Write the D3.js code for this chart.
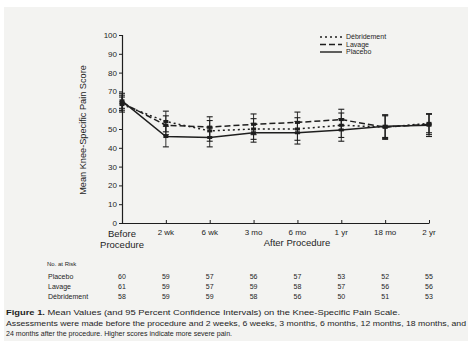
<!DOCTYPE html>
<html><head><meta charset="utf-8">
<script src="https://cdn.jsdelivr.net/npm/d3@7"></script>
<style>
html,body{margin:0;padding:0;background:#fff;}
svg{display:block;font-family:"Liberation Sans",Arial,sans-serif;}
</style></head>
<body><svg id="c" width="471" height="343"></svg>
<script>
const categories = ["Before Procedure","2 wk","6 wk","3 mo","6 mo","1 yr","18 mo","2 yr"];
const yTicks = [0,10,20,30,40,50,60,70,80,90,100];
const seriesNames = ["Débridement","Lavage","Placebo"];
const placeboMean = [65,46,45.5,48,48,49.5,51.5,52];
const placeboLo   = [61,40.5,40.5,43,42,43.5,45.5,46];
const placeboHi   = [69,51.5,50.5,53,54,55.5,57.5,58];
const lavageMean  = [64,52,51,52.5,53.5,55,51,52.5];
const lavageLo    = [60,47,45.5,47,48,49.5,45,47];
const lavageHi    = [68,57,56.5,58,59,60.5,57,58];
const debridMean  = [63,54,49,50,50,52,51,53];
const debridLo    = [59,48.5,43.5,44.5,44,45.5,44.5,48];
const debridHi    = [67,59.5,54.5,55.5,56,58.5,57.5,58];
const riskRows = ["Placebo","Lavage","Débridement"];
const riskPlacebo = [60,59,57,56,57,53,52,55];
const riskLavage  = [61,59,57,59,58,57,56,56];
const riskDebrid  = [58,59,59,58,56,50,51,53];

const svg = d3.select("#c");
const ink = "#1e1e1e";
svg.append("rect").attr("x",4).attr("y",7).attr("width",464).attr("height",334).attr("fill","#f3f3f1");

const x = d3.scalePoint().domain(categories).range([122,429]);
const y = d3.scaleLinear().domain([0,100]).range([223,35]);

// Y axis
const yAxis = svg.append("g").attr("transform","translate(122,0)")
  .call(d3.axisLeft(y).tickValues(yTicks).tickSize(3).tickPadding(2));
yAxis.select(".domain").attr("stroke",ink).attr("stroke-width",1.2);
yAxis.selectAll(".tick line").attr("stroke",ink);
yAxis.selectAll("text").attr("fill",ink).attr("font-size",8).attr("font-family","Liberation Sans, Arial, sans-serif");

svg.append("text").attr("transform","translate(86,130) rotate(-90)").attr("text-anchor","middle")
  .attr("font-size",9.2).attr("fill",ink).text("Mean Knee-Specific Pain Score");

// X axis
const xAxis = svg.append("g").attr("transform","translate(0,223)")
  .call(d3.axisBottom(x).tickSize(-3).tickSizeOuter(0).tickFormat(""));
xAxis.select(".domain").attr("stroke",ink).attr("stroke-width",1.2);
xAxis.selectAll(".tick line").attr("stroke",ink);
categories.forEach((c,i)=>{
  if(i===0){
    const t = svg.append("text").attr("x",x(c)).attr("y",237).attr("text-anchor","middle").attr("font-size",9.5).attr("fill",ink);
    t.append("tspan").attr("x",x(c)).text("Before");
    t.append("tspan").attr("x",x(c)).attr("dy",10.5).text("Procedure");
  } else {
    svg.append("text").attr("x",x(c)).attr("y",235).attr("text-anchor","middle").attr("font-size",8).attr("fill",ink).text(c);
  }
});
svg.append("text").attr("x",297).attr("y",246).attr("text-anchor","middle").attr("font-size",9.5).attr("fill",ink).text("After Procedure");

// Series
const series = [
  {name:"Débridement", mean:debridMean, lo:debridLo, hi:debridHi, dash:"2,3"},
  {name:"Lavage", mean:lavageMean, lo:lavageLo, hi:lavageHi, dash:"6,3"},
  {name:"Placebo", mean:placeboMean, lo:placeboLo, hi:placeboHi, dash:null}
];
const line = d3.line().x((d,i)=>x(categories[i])).y(d=>y(d));
series.forEach(s=>{
  const p = svg.append("path").attr("d",line(s.mean)).attr("fill","none").attr("stroke",ink).attr("stroke-width",1.5);
  if(s.dash) p.attr("stroke-dasharray",s.dash);
  const g = svg.append("g");
  categories.forEach((c,i)=>{
    const cx = x(c);
    g.append("line").attr("x1",cx).attr("x2",cx).attr("y1",y(s.lo[i])).attr("y2",y(s.hi[i])).attr("stroke",ink).attr("stroke-width",0.9);
    [s.lo[i],s.hi[i]].forEach(v=>{
      g.append("line").attr("x1",cx-3).attr("x2",cx+3).attr("y1",y(v)).attr("y2",y(v)).attr("stroke",ink).attr("stroke-width",1.1);
    });
    g.append("rect").attr("x",cx-2.5).attr("y",y(s.mean[i])-1.5).attr("width",5).attr("height",3).attr("fill",ink);
  });
});

// Legend
const leg = svg.append("g");
series.forEach((s,i)=>{
  const ly = 37 + i*7.5;
  const l = leg.append("line").attr("x1",320).attr("x2",342).attr("y1",ly).attr("y2",ly).attr("stroke",ink).attr("stroke-width",1.4);
  if(s.dash) l.attr("stroke-dasharray",s.dash);
  leg.append("text").attr("x",346).attr("y",ly+2.4).attr("font-size",7).attr("fill",ink).text(s.name);
});

// Risk table
svg.append("text").attr("x",47).attr("y",266).attr("font-size",6).attr("fill",ink).text("No. at Risk");
const riskData = [riskPlacebo, riskLavage, riskDebrid];
riskRows.forEach((r,j)=>{
  const ry = 279 + j*9.8;
  svg.append("text").attr("x",48).attr("y",ry).attr("font-size",7).attr("fill",ink).text(r);
  riskData[j].forEach((v,i)=>{
    svg.append("text").attr("x",x(categories[i])).attr("y",ry).attr("text-anchor","middle").attr("font-size",7).attr("fill",ink).text(v);
  });
});

// Caption
const cap = svg.append("text").attr("x",6).attr("y",315).attr("font-size",6.8).attr("fill",ink)
  .attr("textLength",394).attr("lengthAdjust","spacingAndGlyphs");
cap.append("tspan").attr("font-weight","bold").text("Figure 1. ");
cap.append("tspan").text("Mean Values (and 95 Percent Confidence Intervals) on the Knee-Specific Pain Scale.");
svg.append("text").attr("x",6).attr("y",326).attr("font-size",6.8).attr("fill",ink)
  .attr("textLength",460).attr("lengthAdjust","spacingAndGlyphs")
  .text("Assessments were made before the procedure and 2 weeks, 6 weeks, 3 months, 6 months, 12 months, 18 months, and");
svg.append("text").attr("x",6).attr("y",336).attr("font-size",6.8).attr("fill",ink)
  .attr("textLength",226).attr("lengthAdjust","spacingAndGlyphs")
  .text("24 months after the procedure. Higher scores indicate more severe pain.");
</script></body></html>
